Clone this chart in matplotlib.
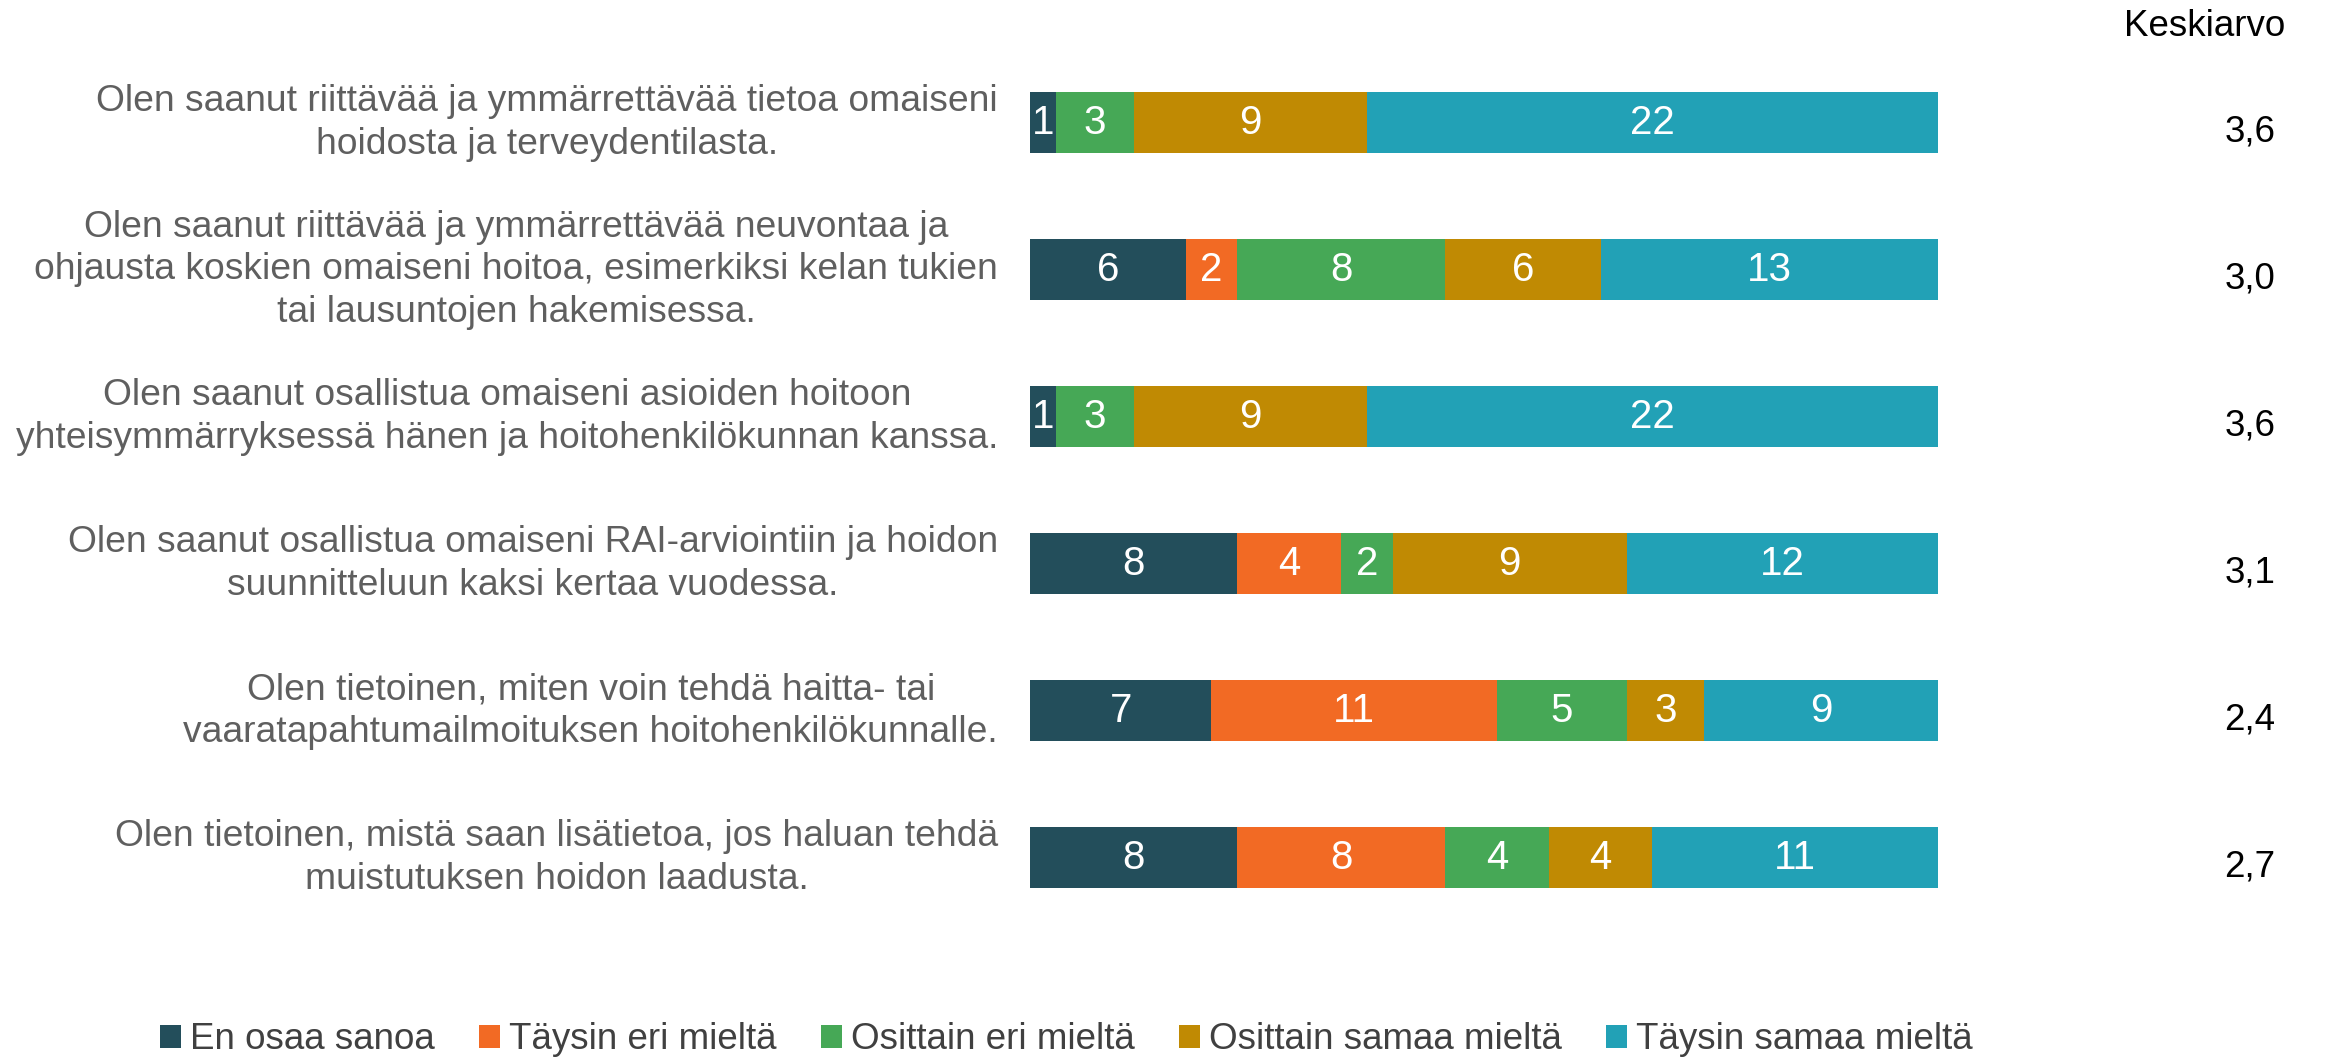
import numpy as np
import matplotlib
matplotlib.use("Agg")
from matplotlib import pyplot as plt
from matplotlib.patches import Patch

# --------------- datos

kysymykset = [
    "Olen saanut riittävää ja ymmärrettävää tietoa omaiseni\nhoidosta ja terveydentilasta.",
    "Olen saanut riittävää ja ymmärrettävää neuvontaa ja\nohjausta koskien omaiseni hoitoa, esimerkiksi kelan tukien\ntai lausuntojen hakemisessa.",
    "Olen saanut osallistua omaiseni asioiden hoitoon\nyhteisymmärryksessä hänen ja hoitohenkilökunnan kanssa.",
    "Olen saanut osallistua omaiseni RAI-arviointiin ja hoidon\nsuunnitteluun kaksi kertaa vuodessa.",
    "Olen tietoinen, miten voin tehdä haitta- tai\nvaaratapahtumailmoituksen hoitohenkilökunnalle.",
    "Olen tietoinen, mistä saan lisätietoa, jos haluan tehdä\nmuistutuksen hoidon laadusta.",
]

vastaukset = ["En osaa sanoa", "Täysin eri mieltä", "Osittain eri mieltä",
              "Osittain samaa mieltä", "Täysin samaa mieltä"]

en_osaa = [1, 6, 1, 8, 7, 8]
taysin_eri = [0, 2, 0, 4, 11, 8]
osittain_eri = [3, 8, 3, 2, 5, 4]
osittain_samaa = [9, 6, 9, 9, 3, 4]
taysin_samaa = [22, 13, 22, 12, 9, 11]

keskiarvo = [3.6, 3.0, 3.6, 3.1, 2.4, 2.7]

varit = ["#234E5B", "#F26A24", "#46A856", "#C08A03", "#22A1B6"]

# --------------- grafico

fig = plt.figure(figsize=(23.28, 10.59), dpi=100)
ax = fig.add_axes([0.4424, 0.1204, 0.3900, 0.8329])

sarjat = [en_osaa, taysin_eri, osittain_eri, osittain_samaa, taysin_samaa]
y = np.arange(len(kysymykset))
vasen = np.zeros(len(kysymykset))

for sarja, vari in zip(sarjat, varit):
    arvot = np.array(sarja)
    ax.barh(y, arvot, left=vasen, height=0.415, color=vari)
    for yi, (v, l) in enumerate(zip(arvot, vasen)):
        if v > 0:
            ax.text(l + v / 2, yi, str(v), ha="center", va="center",
                    color="white", fontsize=29, family="Liberation Sans")
    vasen = vasen + arvot

ax.set_xlim(0, vasen.max())
ax.set_ylim(len(kysymykset) - 0.5, -0.5)
ax.axis("off")

# etiquetas de las preguntas, alineadas a la derecha pero centradas entre lineas
for yi, teksti in enumerate(kysymykset):
    ax.text(-0.0352, yi, teksti, transform=ax.get_yaxis_transform(),
            ha="right", va="center", multialignment="center",
            color="#5F5F5F", fontsize=26.8, family="Liberation Sans", linespacing=1.27)

# keskiarvo columna
for yi, k in enumerate(keskiarvo):
    ax.text(1.3436, yi + 0.06, f"{k:.1f}".replace(".", ","), transform=ax.get_yaxis_transform(),
            ha="center", va="center", color="black", fontsize=26.5, family="Liberation Sans")

fig.text(2205 / 2328, 1 - 27 / 1059, "Keskiarvo", ha="center", va="center",
         color="black", fontsize=26.5, family="Liberation Sans")

kahvat = [Patch(facecolor=v, edgecolor="none") for v in varit]
fig.legend(kahvat, vastaukset, loc="center", bbox_to_anchor=(0.458, 0.018), ncol=5,
           frameon=False, handlelength=0.57, handleheight=0.57, handletextpad=0.25,
           columnspacing=1.2, borderpad=0,
           prop={"family": "Liberation Sans", "size": 26.5}, labelcolor="#404040")

plt.savefig("out.png", dpi=100)
